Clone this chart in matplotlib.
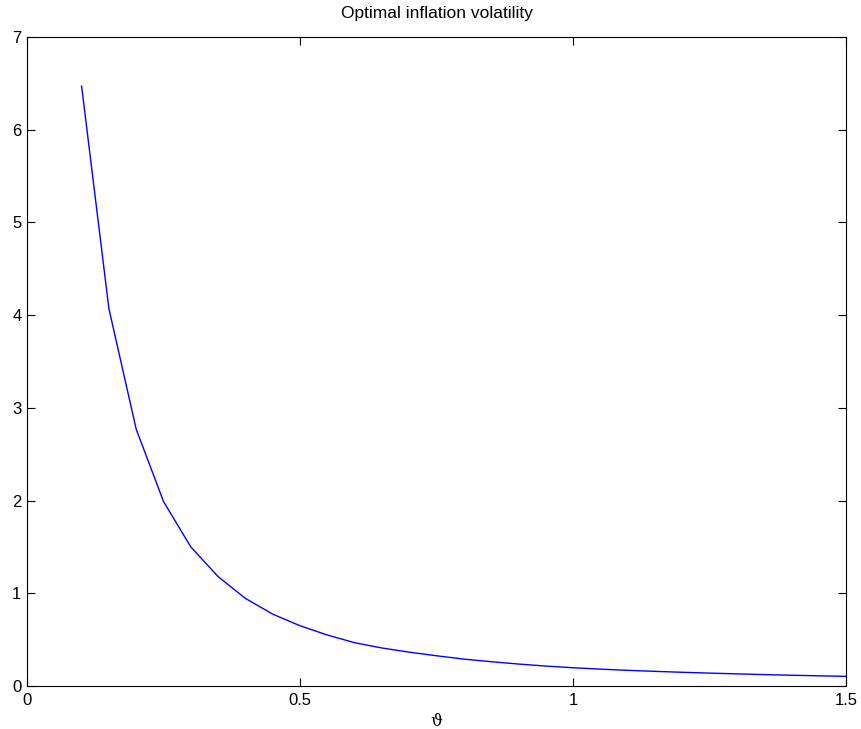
import matplotlib
matplotlib.use("Agg")
import matplotlib.pyplot as plt

theta = [0.10, 0.15, 0.20, 0.25, 0.30, 0.35, 0.40, 0.45, 0.50, 0.55, 0.60, 0.65,
         0.70, 0.75, 0.80, 0.85, 0.90, 0.95, 1.00, 1.05, 1.10, 1.15, 1.20, 1.25,
         1.30, 1.35, 1.40, 1.45, 1.50]
volatility = [6.47, 4.07, 2.77, 1.99, 1.50, 1.18, 0.945, 0.775, 0.65, 0.55, 0.467, 0.41,
              0.365, 0.326, 0.29, 0.262, 0.237, 0.215, 0.197, 0.182, 0.169, 0.158, 0.148, 0.139,
              0.131, 0.123, 0.116, 0.110, 0.104]
xticks = [0, 0.5, 1, 1.5]
xticklabels = ["0", "0.5", "1", "1.5"]
yticks = [0, 1, 2, 3, 4, 5, 6, 7]

plt.rcParams['font.family'] = ['Liberation Sans', 'DejaVu Sans']
fig = plt.figure(figsize=(8.62, 7.29), dpi=100)
ax = fig.add_axes([27/862, 43/729, (846-27)/862, (686-37)/729])
ax.plot(theta, volatility, color='#0000ff', linewidth=1.0)
ax.set_xlim(0, 1.5)
ax.set_ylim(0, 7)
ax.set_xticks(xticks)
ax.set_xticklabels(xticklabels)
ax.set_yticks(yticks)
ax.tick_params(direction='in', top=True, right=True, length=6, labelsize=12)
ax.tick_params(axis='x', pad=5)
ax.tick_params(axis='y', pad=4)
for s in ax.spines.values():
    s.set_linewidth(0.8)
ax.set_title("Optimal inflation volatility", fontsize=12.5, pad=14)
ax.set_xlabel("ϑ", fontsize=12, family=['DejaVu Serif'], labelpad=4)
fig.savefig("out.png", dpi=100)
